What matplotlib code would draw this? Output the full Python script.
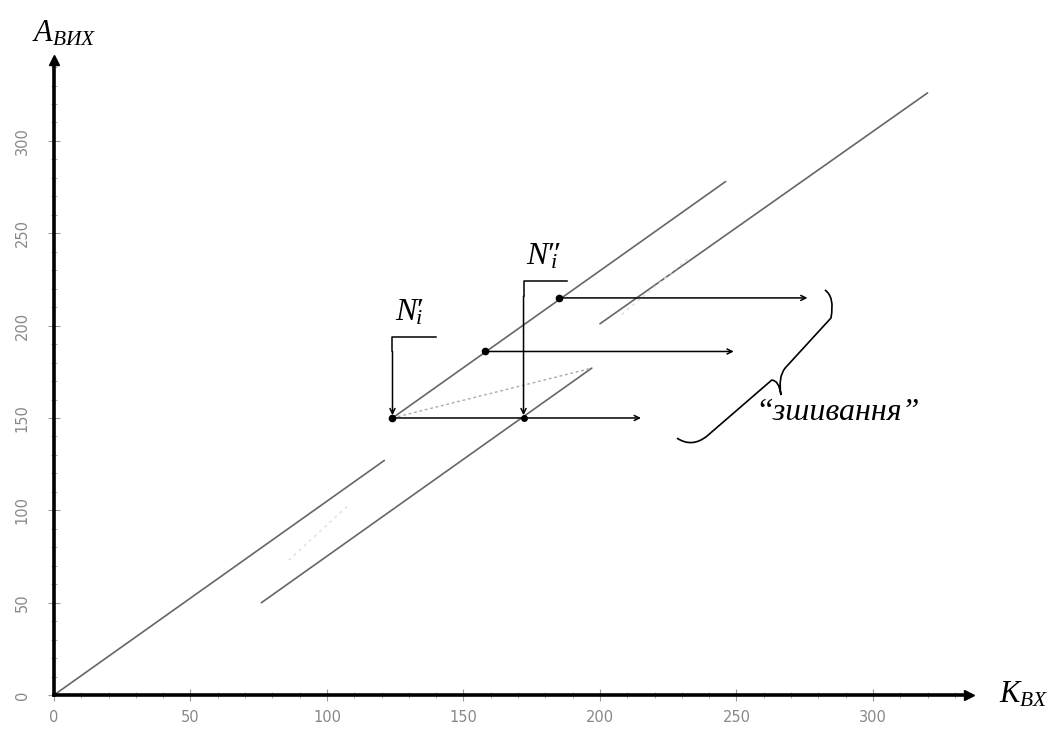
import numpy as np
import matplotlib
matplotlib.use('Agg')
import matplotlib.pyplot as plt
from matplotlib.path import Path
from matplotlib.patches import PathPatch

plt.rcParams['mathtext.fontset'] = 'custom'
plt.rcParams['mathtext.it'] = 'Liberation Serif:italic'
plt.rcParams['mathtext.rm'] = 'Liberation Serif'

# characteristic segments (input K -> output A)
seg1_x = [0, 121]
seg1_y = [0, 127]
seg2_x = [124, 246]
seg2_y = [150, 278]
seg3_x = [76, 197]
seg3_y = [50, 177]
seg4_x = [200, 320]
seg4_y = [201, 326]

# faint joining lines
link_x = [124, 197]
link_y = [150, 177]
faint1_x = [86, 108]
faint1_y = [73, 103]
faint2_x = [208, 232]
faint2_y = [206, 236]

# marked points and horizontal arrows starting from them
pts_x = [124, 158, 185]
pts_y = [150, 186, 215]
arrow_end_x = [215, 249, 276]
n2_x = 172
n2_y = 150

# N' and N'' bracket markers
mark_x = [124, 172]
mark_top = [194, 224]
mark_len = 16
mark_labels = [r"$N′_{\!\!\!i}$", r"$N″_{\!\!\!\!i}$"]
label_pos_x = [125, 173]
label_pos_y = [203, 233]

xticks = [0, 50, 100, 150, 200, 250, 300]
yticks = [0, 50, 100, 150, 200, 250, 300]

# brace next to the arrows
brace_x = [282.4, 286.1, 284.6, 267.8, 265.2, 266.3, 265.6, 262.9, 239.2, 233.7, 228.2]
brace_y = [219.3, 215.5, 204.1, 177.0, 172.2, 162.4, 170.5, 170.5, 140.2, 133.7, 139.1]

fig = plt.figure(figsize=(10.5, 7.32), dpi=100)
ax = fig.add_axes([0.0514, 0.0505, 0.871, 0.868])
ax.set_xlim(0, 335)
ax.set_ylim(0, 344)

line_kw = dict(color='#666666', lw=1.2, solid_capstyle='round')
for sx, sy in [(seg1_x, seg1_y), (seg2_x, seg2_y), (seg3_x, seg3_y), (seg4_x, seg4_y)]:
    ax.plot(sx, sy, **line_kw)
ax.plot(link_x, link_y, color='#aaaaaa', lw=1, ls=(0, (2, 2)))
ax.plot(faint1_x, faint1_y, color='#dddddd', lw=1, ls=(0, (2, 3)))
ax.plot(faint2_x, faint2_y, color='#dddddd', lw=1, ls=(0, (2, 3)))

# horizontal arrows
for x0, y0, x1 in zip(pts_x, pts_y, arrow_end_x):
    ax.annotate('', xy=(x1, y0), xytext=(x0, y0),
                arrowprops=dict(arrowstyle='->', color='k', lw=1.1,
                                shrinkA=0, shrinkB=0, mutation_scale=9))
ax.plot(pts_x, pts_y, 'o', color='k', ms=4.5)
ax.plot([n2_x], [n2_y], 'o', color='k', ms=4)

# N' / N'' markers
for mx, mt, ml, lx, ly in zip(mark_x, mark_top, mark_labels, label_pos_x, label_pos_y):
    ax.plot([mx + mark_len, mx, mx], [mt, mt, mt - 8], color='k', lw=1.1)
    ax.annotate('', xy=(mx, n2_y + 1.5), xytext=(mx, mt - 8),
                arrowprops=dict(arrowstyle='->', color='k', lw=1.1,
                                shrinkA=0, shrinkB=0, mutation_scale=9))
    ax.text(lx, ly, ml, fontsize=23, ha='left', va='baseline')

# brace
codes = [Path.MOVETO, Path.CURVE3, Path.CURVE3, Path.LINETO, Path.CURVE3, Path.CURVE3,
         Path.CURVE3, Path.CURVE3, Path.LINETO, Path.CURVE3, Path.CURVE3]
brace = Path(np.column_stack([brace_x, brace_y]), codes)
ax.add_patch(PathPatch(brace, fill=False, color='k', lw=1.2, clip_on=False))
ax.text(257, 153, '“зшивання”', fontsize=23, family='Liberation Serif',
        style='italic', ha='left', va='center')

# axes with arrows
for s in ['top', 'right']:
    ax.spines[s].set_visible(False)
for s in ['left', 'bottom']:
    ax.spines[s].set_linewidth(2.6)
ax.plot(1, 0, '>k', ms=7, transform=ax.get_yaxis_transform(), clip_on=False)
ax.plot(0, 1, '^k', ms=7, transform=ax.get_xaxis_transform(), clip_on=False)

ax.set_xticks(xticks)
ax.set_yticks(yticks)
ax.set_xticks(np.arange(0, 335, 10), minor=True)
ax.set_yticks(np.arange(0, 344, 10), minor=True)
ax.tick_params(which='major', direction='inout', length=9, width=0.8, color='#999999',
               labelcolor='#888888', labelsize=10.5)
ax.tick_params(which='minor', direction='inout', length=4, width=0.7, color='#aaaaaa')
ax.tick_params(axis='x', which='major', pad=6)
ax.tick_params(axis='y', which='major', pad=13)
for lab in ax.get_yticklabels():
    lab.set_rotation(90)
    lab.set_va('center')

ax.text(-8, 354, r'$A_{ВИХ}$', fontsize=22, ha='left', va='baseline', clip_on=False)
ax.text(346, -4, r'$K_{ВХ}$', fontsize=22, ha='left', va='baseline', clip_on=False)

plt.savefig('out.png', dpi=100)
